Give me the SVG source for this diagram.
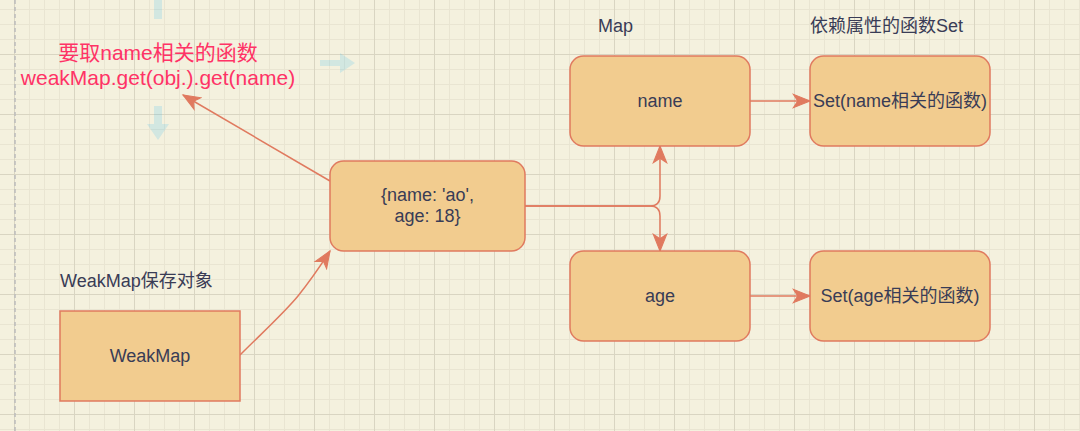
<svg xmlns="http://www.w3.org/2000/svg" width="1080" height="431" viewBox="0 0 1080 431">
<style>
.box{fill:#F2CC8F;stroke:#E07A5F;stroke-width:1.5}
.t{font-family:"Liberation Sans",Arial,"Noto Sans CJK SC",sans-serif;font-size:18px;fill:#393C56}
.c{text-anchor:middle}
.red{font-family:"Liberation Sans",Arial,"Noto Sans CJK SC",sans-serif;font-size:21px;fill:#FF3366;text-anchor:middle}
.edge{fill:none;stroke:#E07A5F;stroke-width:1.5}
.hint{fill:#29b6f2;fill-opacity:0.17}
</style>
<defs>
<pattern id="grid" x="14" y="54" width="60" height="60" patternUnits="userSpaceOnUse">
<rect x="0" y="0" width="60" height="60" fill="#F4F1DE"/>
<g fill="#e9e5d2">
<rect x="15" y="0" width="1" height="60"/><rect x="30" y="0" width="1" height="60"/><rect x="45" y="0" width="1" height="60"/>
<rect x="0" y="15" width="60" height="1"/><rect x="0" y="30" width="60" height="1"/><rect x="0" y="45" width="60" height="1"/>
</g>
<g fill="#d9d5c2">
<rect x="0" y="0" width="1" height="60"/><rect x="0" y="0" width="60" height="1"/>
</g>
</pattern>
<marker id="arr" markerUnits="userSpaceOnUse" markerWidth="20" markerHeight="20" viewBox="-16 -8 18 16" refX="0" refY="0" orient="auto">
<path d="M0,0 L-15,-6 L-11,0 L-15,6 Z" fill="#E07A5F" stroke="#E07A5F" stroke-width="1"/>
</marker>
</defs>
<rect x="0" y="0" width="1080" height="431" fill="url(#grid)"/>
<line x1="15" y1="0" x2="15" y2="431" stroke="#bcbcbc" stroke-width="1.5" stroke-dasharray="4 3"/>
<g id="hover-hints">
<rect class="hint" x="154" y="0" width="8" height="19"/>
<polygon class="hint" points="320,60 340,60 340,53 355,63 340,73 340,66 320,66"/>
<polygon class="hint" points="154,106 162,106 162,124 169,124 158,140 147,124 154,124"/>
</g>
<g id="connectors">
<path class="edge" d="M330,181 L183,95" marker-end="url(#arr)"/>
<path class="edge" d="M240,355 C262,333 284,313 298,296 C310,281 321,265 330,251" marker-end="url(#arr)"/>
<path class="edge" d="M525,206 L650,206 Q660,206 660,196 L660,146" marker-end="url(#arr)"/>
<path class="edge" d="M525,206 L650,206 Q660,206 660,216 L660,251" marker-end="url(#arr)"/>
<path class="edge" d="M750,101 L810,101" marker-end="url(#arr)"/>
<path class="edge" d="M750,296 L810,296" marker-end="url(#arr)"/>
</g>
<g id="note-get">
<text class="red" x="158" y="60">要取name相关的函数</text>
<text class="red" x="158" y="85">weakMap.get(obj.).get(name)</text>
</g>
<g id="label-weakmap">
<text class="t" x="60" y="287">WeakMap保存对象</text>
</g>
<g id="label-map">
<text class="t" x="598" y="32">Map</text>
</g>
<g id="label-set">
<text class="t" x="810" y="32">依赖属性的函数Set</text>
</g>
<g id="node-weakmap">
<rect class="box" x="60" y="311" width="180" height="90"/>
<text class="t c" x="150" y="362">WeakMap</text>
</g>
<g id="node-obj">
<rect class="box" x="330" y="161" width="195" height="90" rx="13.5" ry="13.5"/>
<text class="t c" x="427.5" y="201">{name: 'ao',</text>
<text class="t c" x="427.5" y="222">age: 18}</text>
</g>
<g id="node-name">
<rect class="box" x="570" y="56" width="180" height="90" rx="13.5" ry="13.5"/>
<text class="t c" x="660" y="107">name</text>
</g>
<g id="node-age">
<rect class="box" x="570" y="251" width="180" height="90" rx="13.5" ry="13.5"/>
<text class="t c" x="660" y="302">age</text>
</g>
<g id="node-set-name">
<rect class="box" x="810" y="56" width="180" height="90" rx="13.5" ry="13.5"/>
<text class="t c" x="900" y="107">Set(name相关的函数)</text>
</g>
<g id="node-set-age">
<rect class="box" x="810" y="251" width="180" height="90" rx="13.5" ry="13.5"/>
<text class="t c" x="900" y="302">Set(age相关的函数)</text>
</g>
</svg>
